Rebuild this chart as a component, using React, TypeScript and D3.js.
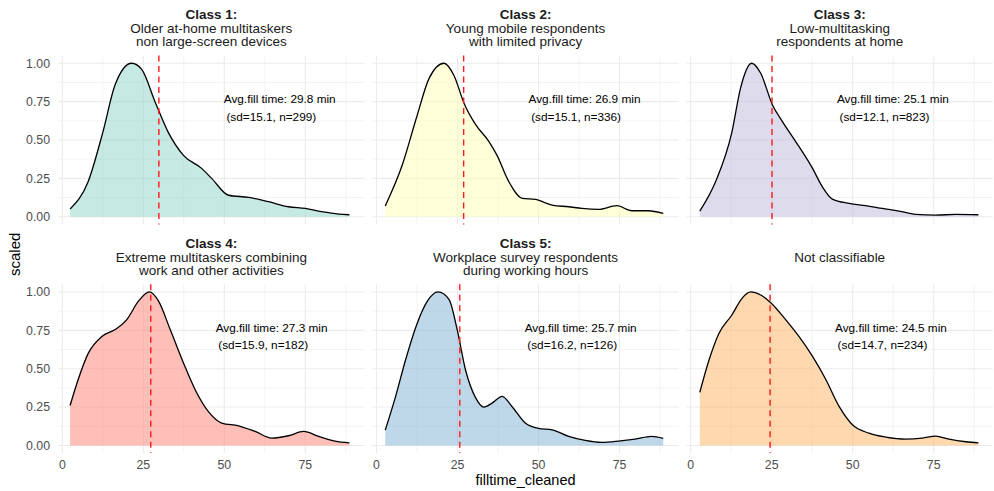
import React, { useEffect } from "react";
import * as d3 from "d3";

const FONT = "'Liberation Sans', Arial, Helvetica, sans-serif";

// ---- data ----
const classHeads = ["Class 1:", "Class 2:", "Class 3:", "Class 4:", "Class 5:", ""];
const classSubtitles = [
  ["Older at-home multitaskers", "non large-screen devices"],
  ["Young mobile respondents", "with limited privacy"],
  ["Low-multitasking", "respondents at home"],
  ["Extreme multitaskers combining", "work and other activities"],
  ["Workplace survey respondents", "during working hours"],
  ["Not classifiable"],
];
const meanFill = [29.8, 26.9, 25.1, 27.3, 25.7, 24.5];
const sdFill = [15.1, 15.1, 12.1, 15.9, 16.2, 14.7];
const nResp = [299, 336, 823, 182, 126, 234];
const fillColors = ["#8DD3C7", "#FFFFB3", "#BEBADA", "#FB8072", "#80B1D3", "#FDB462"];

const xTicks = [0, 25, 50, 75];
const yTicks = [0, 0.25, 0.5, 0.75, 1];
const xMinorTicks = [12.5, 37.5, 62.5, 87.5];
const yMinorTicks = [0.125, 0.375, 0.625, 0.875];
const dataRange = [3, 89];

const class1Density: [number, number][] = [
  [2.4, 0.05], [8, 0.23], [12.5, 0.55], [16.3, 0.86], [21.4, 1.0], [24.5, 0.96],
  [28.6, 0.75], [32.7, 0.55], [37.4, 0.4], [43, 0.315], [46.1, 0.25], [51.3, 0.14],
  [57.5, 0.126], [63.6, 0.098], [69.8, 0.065], [75, 0.054], [80, 0.033], [85.3, 0.017], [88.6, 0.013],
];
const class2Density: [number, number][] = [
  [2.7, 0.07], [8, 0.34], [12.4, 0.65], [16.2, 0.9], [20.8, 1.0], [23.9, 0.92],
  [27, 0.74], [30.6, 0.6], [34.7, 0.49], [37.2, 0.4], [40.8, 0.23], [45, 0.12],
  [49, 0.113], [54.2, 0.076], [59.3, 0.065], [63.4, 0.054], [68.5, 0.048], [74.2, 0.072],
  [78.8, 0.039], [83.9, 0.039], [88.5, 0.022],
];
const class3Density: [number, number][] = [
  [2.8, 0.037], [7.7, 0.23], [12.7, 0.55], [15.4, 0.84], [18.8, 1.0], [21.6, 0.935],
  [25.2, 0.73], [28.3, 0.62], [32.4, 0.49], [37.6, 0.315], [40.6, 0.196], [43.7, 0.115],
  [48.9, 0.087], [54, 0.072], [59.2, 0.054], [64.3, 0.037], [69.4, 0.015], [75.6, 0.011],
  [81.8, 0.015], [88.8, 0.013],
];
const class4Density: [number, number][] = [
  [2.4, 0.26], [4.9, 0.43], [8, 0.6], [12.2, 0.71], [16.3, 0.755], [19.9, 0.82],
  [23.5, 0.94], [26.9, 1.0], [29.7, 0.94], [33.3, 0.755], [37.4, 0.537], [41, 0.363],
  [45.1, 0.22], [49.2, 0.146], [54.4, 0.128], [59.5, 0.091], [64.7, 0.048], [69.8, 0.063],
  [74.5, 0.091], [79.1, 0.059], [84.2, 0.028], [88.6, 0.017],
];
const class5Density: [number, number][] = [
  [2.7, 0.1], [5.9, 0.32], [9, 0.56], [12.4, 0.787], [15.7, 0.94], [19, 1.0],
  [22.4, 0.95], [24.9, 0.754], [27.5, 0.49], [30.6, 0.31], [33.1, 0.25], [35.7, 0.276],
  [38.8, 0.32], [41.8, 0.254], [45.9, 0.146], [50, 0.111], [54.2, 0.102], [59.3, 0.059],
  [64.4, 0.033], [69.5, 0.02], [74.7, 0.028], [79.8, 0.041], [84.9, 0.059], [88.5, 0.046],
];
const class6Density: [number, number][] = [
  [2.8, 0.346], [5.7, 0.56], [8.7, 0.73], [12.7, 0.85], [15.9, 0.96], [18.5, 1.0],
  [21.6, 0.98], [24.7, 0.93], [29.3, 0.82], [33.4, 0.71], [37.6, 0.58], [41.7, 0.43],
  [45.8, 0.254], [49.9, 0.135], [55, 0.08], [60.2, 0.054], [66.4, 0.041], [71.5, 0.048],
  [75.6, 0.061], [79.7, 0.041], [84.9, 0.024], [88.8, 0.017],
];
const densities = [class1Density, class2Density, class3Density, class4Density, class5Density, class6Density];

// ---- layout ----
const W = 994;
const H = 491;
const plotLeft = 58.1;
const panelW = 306.5;
const gapX = 7.7;
const rowTops = [55.6, 284.3];
const panelH = 168.8;
const labelOffset = 37.3; // data units to the right of mean

export default function App() {
  useEffect(() => {
    document.body.style.margin = "0";
  }, []);

  const xSpan = dataRange[1] - dataRange[0];
  const xDomain = [dataRange[0] - 0.05 * xSpan, dataRange[1] + 0.05 * xSpan];
  const yDomain = [-0.05, 1.05];

  const panels = densities.map((dens, i) => {
    const col = i % 3;
    const row = Math.floor(i / 3);
    const left = plotLeft + col * (panelW + gapX);
    const top = rowTops[row];
    const x = d3.scaleLinear().domain(xDomain).range([left, left + panelW]);
    const y = d3.scaleLinear().domain(yDomain).range([top + panelH, top]);
    const area = d3
      .area<[number, number]>()
      .x((d) => x(d[0]))
      .y0(y(0))
      .y1((d) => y(d[1]))
      .curve(d3.curveMonotoneX);
    const line = d3
      .line<[number, number]>()
      .x((d) => x(d[0]))
      .y((d) => y(d[1]))
      .curve(d3.curveMonotoneX);
    const cx = left + panelW / 2;
    const labX = x(meanFill[i] + labelOffset);
    const labY = y(0.71);
    const subs = classSubtitles[i];
    const titleBase = top - 36.3;
    return (
      <g key={i}>
        {/* grid */}
        {yMinorTicks.map((t) => (
          <line key={"ym" + t} x1={left} x2={left + panelW} y1={y(t)} y2={y(t)} stroke="#ebebeb" strokeWidth={0.6} />
        ))}
        {xMinorTicks.map((t) => (
          <line key={"xm" + t} x1={x(t)} x2={x(t)} y1={top} y2={top + panelH} stroke="#ebebeb" strokeWidth={0.6} />
        ))}
        {yTicks.map((t) => (
          <line key={"yM" + t} x1={left} x2={left + panelW} y1={y(t)} y2={y(t)} stroke="#ebebeb" strokeWidth={1.1} />
        ))}
        {xTicks.map((t) => (
          <line key={"xM" + t} x1={x(t)} x2={x(t)} y1={top} y2={top + panelH} stroke="#ebebeb" strokeWidth={1.1} />
        ))}
        {/* density */}
        <path d={area(dens) || ""} fill={fillColors[i]} fillOpacity={0.5} stroke="none" />
        <path d={line(dens) || ""} fill="none" stroke="#000" strokeWidth={1.3} />
        {/* mean line */}
        <line
          x1={x(meanFill[i])}
          x2={x(meanFill[i])}
          y1={top}
          y2={top + panelH}
          stroke="#ff1a1a"
          strokeWidth={1.4}
          strokeDasharray="6,4.5"
        />
        {/* annotation */}
        <text x={labX} y={labY - 4.7} textAnchor="middle" fontFamily={FONT} fontSize={11.8} fill="#000">
          {`Avg.fill time: ${meanFill[i].toFixed(1)} min`}
        </text>
        <text x={labX - 8.4} y={labY + 12.8} textAnchor="middle" fontFamily={FONT} fontSize={11.8} fill="#000">
          {`(sd=${sdFill[i].toFixed(1)}, n=${nResp[i]})`}
        </text>
        {/* strip title */}
        {classHeads[i] ? (
          <>
            <text x={cx} y={titleBase} textAnchor="middle" fontFamily={FONT} fontSize={13.5} fontWeight="bold" fill="#1a1a1a">
              {classHeads[i]}
            </text>
            {subs.map((s, k) => (
              <text key={k} x={cx} y={titleBase + 13.5 * (k + 1)} textAnchor="middle" fontFamily={FONT} fontSize={13.5} fill="#1a1a1a">
                {s}
              </text>
            ))}
          </>
        ) : (
          <text x={cx} y={titleBase + 13.5} textAnchor="middle" fontFamily={FONT} fontSize={13.5} fill="#1a1a1a">
            {subs[0]}
          </text>
        )}
        {/* y tick labels */}
        {col === 0 &&
          yTicks.map((t) => (
            <text key={"yl" + t} x={50} y={y(t) + 4.4} textAnchor="end" fontFamily={FONT} fontSize={12.3} fill="#4d4d4d">
              {t.toFixed(2)}
            </text>
          ))}
        {/* x tick labels */}
        {row === 1 &&
          xTicks.map((t) => (
            <text key={"xl" + t} x={x(t)} y={468.8} textAnchor="middle" fontFamily={FONT} fontSize={12.3} fill="#4d4d4d">
              {t}
            </text>
          ))}
      </g>
    );
  });

  const plotRight = plotLeft + 3 * panelW + 2 * gapX;
  const midY = (rowTops[0] + rowTops[1] + panelH) / 2;

  return (
    <svg width={W} height={H} style={{ display: "block", position: "absolute", left: 0, top: 0, background: "#fff" }}>
      <rect x={0} y={0} width={W} height={H} fill="#fff" />
      {panels}
      <text x={(plotLeft + plotRight) / 2} y={485} textAnchor="middle" fontFamily={FONT} fontSize={14.5} fill="#000">
        filltime_cleaned
      </text>
      <text
        transform={`translate(19.5, ${midY}) rotate(-90)`}
        textAnchor="middle"
        fontFamily={FONT}
        fontSize={15}
        fill="#000"
      >
        scaled
      </text>
    </svg>
  );
}
